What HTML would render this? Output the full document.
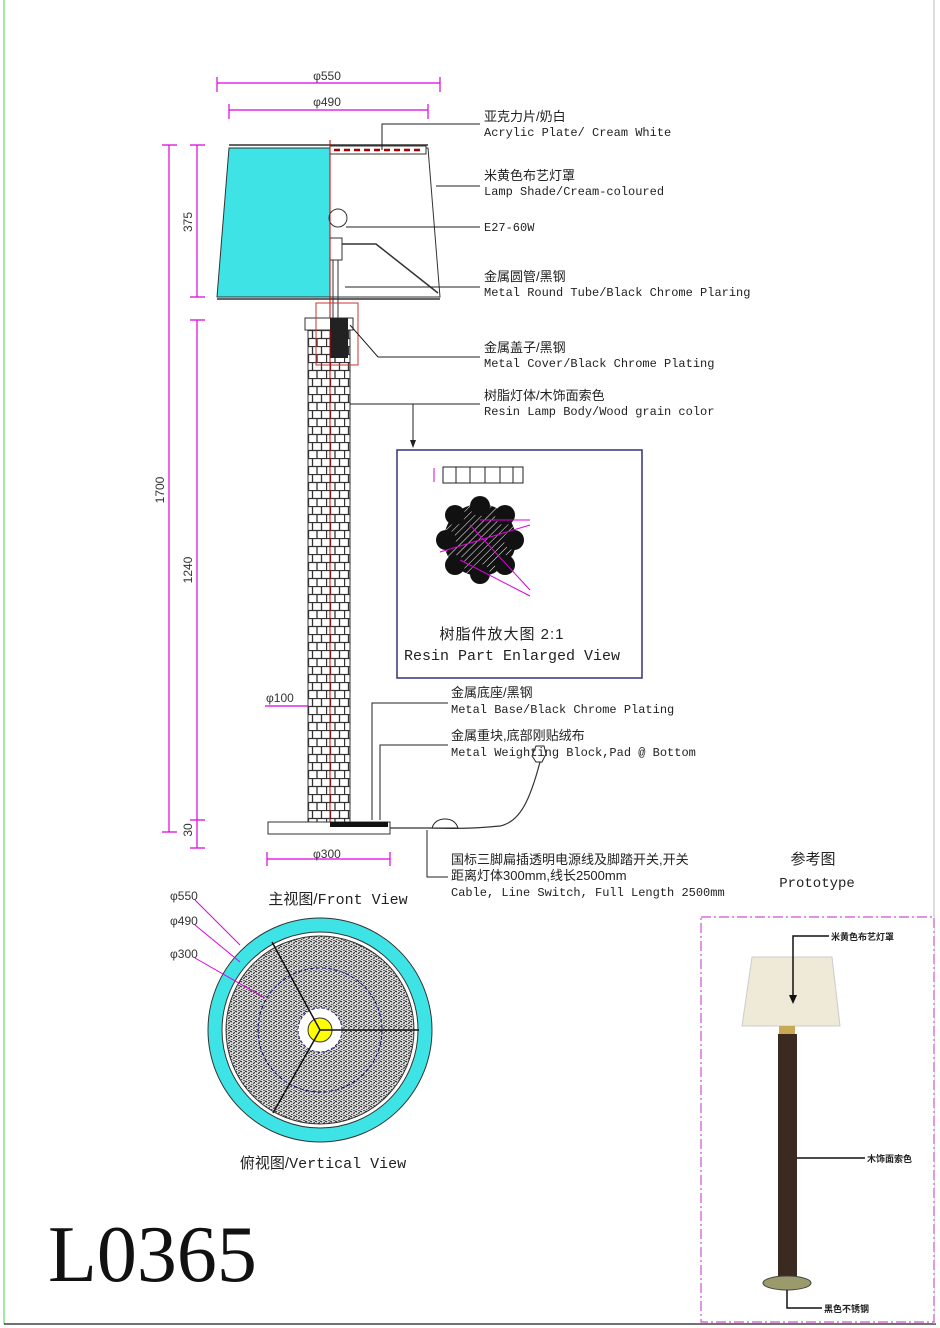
<!DOCTYPE html>
<html><head><meta charset="utf-8"><style>
html,body{margin:0;padding:0;background:#fff;}
svg{display:block;}
.m{font-family:"Liberation Mono","Noto Sans CJK SC",monospace;font-size:12px;fill:#222;}
.c{font-family:"Liberation Sans","Noto Sans CJK SC",sans-serif;font-size:13px;fill:#222;}
.d{font-family:"Liberation Sans",sans-serif;font-size:12px;fill:#333;}
</style></head><body>
<svg width="940" height="1328" viewBox="0 0 940 1328" xmlns="http://www.w3.org/2000/svg">
<defs>
<pattern id="brick" x="308" y="330" width="18" height="16" patternUnits="userSpaceOnUse">
<rect width="18" height="16" fill="#fff"/>
<path d="M0 0.5H18M0 8.5H18M4.5 0V8M13.5 0V8M0.5 8V16M9 8V16" stroke="#333" stroke-width="1.3"/>
</pattern>
<pattern id="speck" width="5" height="5" patternUnits="userSpaceOnUse">
<rect width="5" height="5" fill="#ddd"/>
<path d="M0 1l2 1M3 3.5l2-1M1 4.5l1.5 0.5M3.5 0l1 1" stroke="#222" stroke-width="1.1"/>
</pattern>
<pattern id="hatch" width="5" height="5" patternUnits="userSpaceOnUse" patternTransform="rotate(45)">
<rect width="5" height="5" fill="#111"/><path d="M0 0V5" stroke="#fff" stroke-width="1"/>
</pattern>
</defs>
<line x1="4" y1="0" x2="4" y2="1324" stroke="#8d8" stroke-width="1.5"/>
<line x1="4" y1="1324" x2="936" y2="1324" stroke="#444" stroke-width="1.5"/>
<line x1="934" y1="0" x2="934" y2="1324" stroke="#bbb" stroke-width="1"/>

<g stroke="#d0d" stroke-width="1.2" fill="none">
<path d="M217 83H440M217 77V92M440 77V92"/>
<path d="M229 110H428M229 104V119M428 104V119"/>
<path d="M197 145V297M190 145H205M190 297H205"/>
<path d="M169 145V832M162 145H177M162 832H177"/>
<path d="M197 320V820M190 320H205M190 820H205"/>
<path d="M197 820V848M190 848H205"/>
<path d="M265 706H350"/>
<path d="M267 859H390M267 852V866M390 852V866"/>
</g>
<text x="327" y="80" class="d" text-anchor="middle">φ550</text>
<text x="327" y="106" class="d" text-anchor="middle">φ490</text>
<text transform="translate(192,222) rotate(-90)" class="d" text-anchor="middle">375</text>
<text transform="translate(164,490) rotate(-90)" class="d" text-anchor="middle">1700</text>
<text transform="translate(192,570) rotate(-90)" class="d" text-anchor="middle">1240</text>
<text transform="translate(192,830) rotate(-90)" class="d" text-anchor="middle">30</text>
<text x="266" y="702" class="d">φ100</text>
<text x="313" y="858" class="d">φ300</text>

<polygon points="229,148 330,148 330,297 217,297" fill="#3ee3e6" stroke="#333"/>
<polygon points="330,148 428,148 440,297 330,297" fill="#fff" stroke="#333"/>
<line x1="229" y1="145" x2="428" y2="145" stroke="#333" stroke-width="1.5"/>
<line x1="217" y1="299" x2="440" y2="299" stroke="#333" stroke-width="1.5"/>
<rect x="330" y="146" width="96" height="8" fill="#fff" stroke="#333"/>
<path d="M334 150H424" stroke="#a00" stroke-width="2.5" stroke-dasharray="6 4"/>
<circle cx="338" cy="218" r="9" fill="#fff" stroke="#333"/>
<rect x="330" y="238" width="12" height="22" fill="#fff" stroke="#333"/>
<path d="M342 244L376 244L438 293" stroke="#333" stroke-width="1.5" fill="none"/>
<line x1="333" y1="260" x2="333" y2="320" stroke="#333"/>
<line x1="338" y1="260" x2="338" y2="320" stroke="#333"/>
<line x1="330" y1="140" x2="330" y2="830" stroke="#c00" stroke-width="1"/>

<rect x="308" y="318" width="42" height="504" fill="url(#brick)" stroke="#333"/>
<rect x="305" y="318" width="48" height="12" fill="#fff" stroke="#333"/>
<rect x="330" y="318" width="18" height="40" fill="#222"/>
<rect x="316" y="303" width="42" height="62" fill="none" stroke="#c33"/>
<line x1="330" y1="330" x2="330" y2="830" stroke="#c00" stroke-width="1"/>

<rect x="268" y="822" width="122" height="12" fill="#fff" stroke="#333"/>
<rect x="330" y="822" width="58" height="5" fill="#111"/>
<path d="M390 828H430 C440 828 460 830 500 826 C520 822 530 800 540 762" stroke="#333" stroke-width="1.2" fill="none"/>
<path d="M432 828 q3 -9 13 -9 q10 0 13 9z" fill="#fff" stroke="#222"/>
<path d="M536 762 l-4 -6 4 -10 8 0 2 8 -4 8z" fill="#fff" stroke="#222"/>

<g stroke="#222" stroke-width="1" fill="none">
<path d="M382 150V124H480"/>
<path d="M436 186H480"/>
<path d="M346 227H480"/>
<path d="M345 287H480"/>
<path d="M350 325L378 357H480"/>
<path d="M350 404H480"/>
<path d="M413 404V447"/>
<path d="M372 820V703H448"/>
<path d="M380 820V745H448"/>
<path d="M427 830V877H448"/>
</g>
<path d="M410 440l3 8 3-8z" fill="#222"/>

<text x="484" y="121" class="c">亚克力片/奶白</text>
<text x="484" y="136" class="m">Acrylic Plate/ Cream White</text>
<text x="484" y="180" class="c">米黄色布艺灯罩</text>
<text x="484" y="195" class="m">Lamp Shade/Cream-coloured</text>
<text x="484" y="231" class="m">E27-60W</text>
<text x="484" y="281" class="c">金属圆管/黑钢</text>
<text x="484" y="296" class="m">Metal Round Tube/Black Chrome Plaring</text>
<text x="484" y="352" class="c">金属盖子/黑钢</text>
<text x="484" y="367" class="m">Metal Cover/Black Chrome Plating</text>
<text x="484" y="400" class="c">树脂灯体/木饰面索色</text>
<text x="484" y="415" class="m">Resin Lamp Body/Wood grain color</text>

<rect x="397" y="450" width="245" height="228" fill="#fff" stroke="#337" stroke-width="1.5"/>
<rect x="443" y="467" width="80" height="16" fill="#fff" stroke="#222"/>
<path d="M456 467V483M470 467V483M485 467V483M500 467V483M513 467V483" stroke="#222"/>
<path d="M434 468V482" stroke="#d0d"/>
<circle cx="480" cy="540" r="36" fill="url(#hatch)"/>
<g fill="#111"><circle cx="455" cy="515" r="10"/><circle cx="480" cy="506" r="10"/><circle cx="505" cy="515" r="10"/><circle cx="514" cy="540" r="10"/><circle cx="505" cy="565" r="10"/><circle cx="480" cy="574" r="10"/><circle cx="455" cy="565" r="10"/><circle cx="446" cy="540" r="10"/></g>
<path d="M440 552L530 525M470 525L530 590M460 560L530 596M480 520L530 520" stroke="#d0d" fill="none"/>
<text x="502" y="639" class="c" text-anchor="middle" style="font-size:15px;letter-spacing:1px">树脂件放大图 2:1</text>
<text x="512" y="660" class="m" text-anchor="middle" style="font-size:15px">Resin Part Enlarged View</text>

<text x="451" y="697" class="c">金属底座/黑钢</text>
<text x="451" y="713" class="m">Metal Base/Black Chrome Plating</text>
<text x="451" y="740" class="c">金属重块,底部刚贴绒布</text>
<text x="451" y="756" class="m">Metal Weighting Block,Pad @ Bottom</text>
<text x="451" y="864" class="c">国标三脚扁插透明电源线及脚踏开关,开关</text>
<text x="451" y="880" class="c">距离灯体300mm,线长2500mm</text>
<text x="451" y="896" class="m">Cable, Line Switch, Full Length 2500mm</text>

<text x="813" y="864" class="c" text-anchor="middle" style="font-size:15px">参考图</text>
<text x="817" y="887" class="m" text-anchor="middle" style="font-size:14px">Prototype</text>

<text x="338" y="904" class="c" text-anchor="middle" style="font-size:15px">主视图/<tspan class="m" style="font-size:15px">Front View</tspan></text>
<circle cx="320" cy="1030" r="112" fill="#3ee3e6" stroke="#333"/>
<circle cx="320" cy="1030" r="98" fill="#fff" stroke="#333"/>
<circle cx="320" cy="1030" r="94" fill="url(#speck)" stroke="#333"/>
<circle cx="320" cy="1030" r="62" fill="none" stroke="#228" stroke-dasharray="4 2"/>
<circle cx="320" cy="1030" r="22" fill="#fff" stroke="#228" stroke-dasharray="3 2"/>
<circle cx="320" cy="1030" r="12" fill="#ff0" stroke="#333"/>
<path d="M320 1030L272 942M320 1030L273 1113M320 1030H419" stroke="#111" stroke-width="1.5"/>
<g stroke="#d0d" fill="none"><path d="M195 900L240 945M195 925L240 962M195 958L265 998"/></g>
<text x="170" y="900" class="d">φ550</text>
<text x="170" y="925" class="d">φ490</text>
<text x="170" y="958" class="d">φ300</text>
<text x="323" y="1168" class="c" text-anchor="middle" style="font-size:15px">俯视图/<tspan class="m" style="font-size:15px">Vertical View</tspan></text>

<text x="48" y="1281" style="font-family:'Liberation Serif',serif;font-size:80px;fill:#111">L0365</text>

<rect x="701" y="917" width="233" height="405" fill="#fff" stroke="#c5c" stroke-width="1.2" stroke-dasharray="10 3 2 3"/>
<polygon points="752,957 832,957 840,1026 742,1026" fill="#efe9d8" stroke="#ccc"/>
<rect x="779" y="1026" width="16" height="8" fill="#c9a855"/>
<rect x="778" y="1034" width="19" height="247" fill="#3a2a20"/>
<ellipse cx="787" cy="1283" rx="24" ry="7" fill="#9a9a6a" stroke="#444"/>
<g stroke="#111" stroke-width="1.5" fill="none">
<path d="M829 936H793V1000"/><path d="M797 1158H865"/><path d="M787 1290V1308H822"/>
</g>
<path d="M789 995l4 9 4-9z" fill="#111"/>
<text x="831" y="940" class="c" style="font-size:9px;font-weight:bold">米黄色布艺灯罩</text>
<text x="867" y="1162" class="c" style="font-size:9px;font-weight:bold">木饰面索色</text>
<text x="824" y="1312" class="c" style="font-size:9px;font-weight:bold">黑色不锈钢</text>
</svg>
</body></html>
